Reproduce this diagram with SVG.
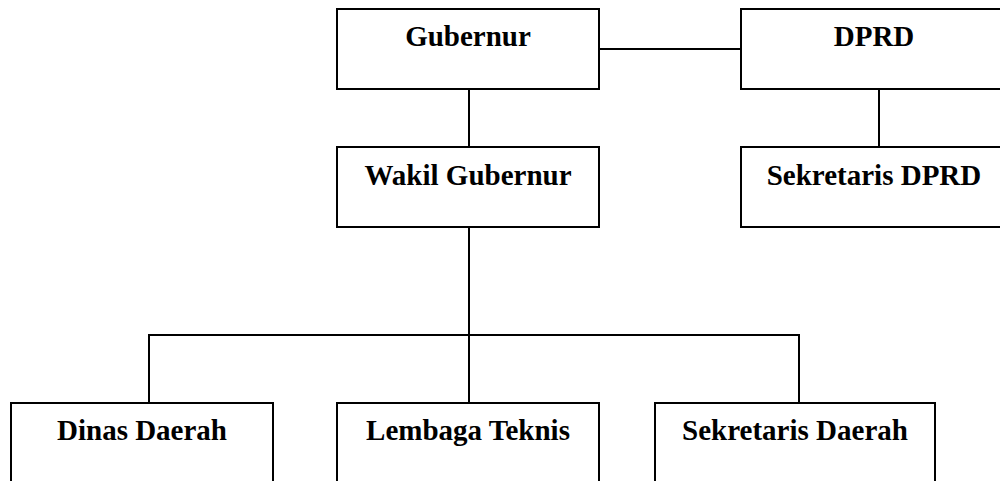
<svg xmlns="http://www.w3.org/2000/svg" width="1000" height="481" viewBox="0 0 1000 481">
<style>
.box{fill:#fff;stroke:#000;stroke-width:2}
.lbl{font-family:"Liberation Serif","Times New Roman",serif;font-weight:bold;font-size:29px;fill:#000;text-anchor:middle}
.con{fill:none;stroke:#000;stroke-width:2}
</style>
<rect width="1000" height="481" fill="#fff"/>
<g id="connectors">
<line class="con" x1="599" y1="49" x2="741" y2="49"/>
<line class="con" x1="469" y1="89" x2="469" y2="147"/>
<line class="con" x1="879" y1="89" x2="879" y2="147"/>
<line class="con" x1="469" y1="227" x2="469" y2="403"/>
<polyline class="con" points="149,403 149,335 799,335 799,403"/>
</g>
<g id="gubernur"><rect class="box" x="337" y="9" width="262" height="80"/><text class="lbl" x="468" y="46">Gubernur</text></g>
<g id="dprd"><rect class="box" x="741" y="9" width="268" height="80"/><text class="lbl" x="874" y="46">DPRD</text></g>
<g id="wakil"><rect class="box" x="337" y="147" width="262" height="80"/><text class="lbl" x="468" y="185">Wakil Gubernur</text></g>
<g id="sekdprd"><rect class="box" x="741" y="147" width="268" height="80"/><text class="lbl" x="874" y="185">Sekretaris DPRD</text></g>
<g id="dinas"><rect class="box" x="11" y="403" width="262" height="90"/><text class="lbl" x="142" y="440">Dinas Daerah</text></g>
<g id="lembaga"><rect class="box" x="337" y="403" width="262" height="90"/><text class="lbl" x="468" y="440">Lembaga Teknis</text></g>
<g id="sekda"><rect class="box" x="655" y="403" width="280" height="90"/><text class="lbl" x="795" y="440">Sekretaris Daerah</text></g>
</svg>
